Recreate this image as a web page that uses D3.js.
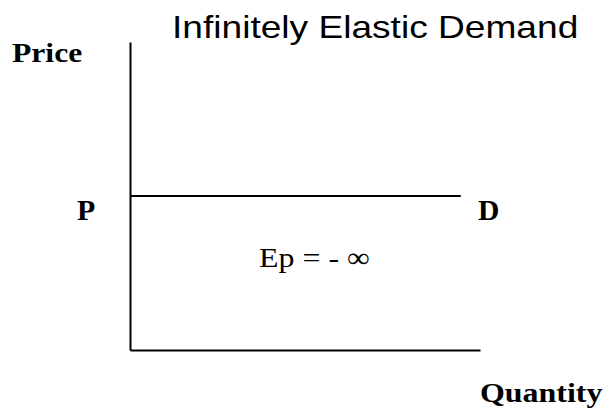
<!DOCTYPE html>
<meta charset="utf-8">
<head>
<script src="https://cdn.jsdelivr.net/npm/d3@7"></script>
<style>
  body { margin: 0; background: #fff; }
  .serif { font-family: "Liberation Serif", "Times New Roman", serif; fill: #000; }
  .sans { font-family: "Liberation Sans", Arial, sans-serif; fill: #000; }
</style>
</head>
<body>
<div id="chart"></div>
<script>

// axis extents (quantity, price), in chart units
var quantityDomain = [0, 10];
var priceDomain = [0, 10];

// the demand line: flat at price P for every quantity
var demandPrice = 5;
var demandQuantity = [0, 9.45];

var width = 605,
    height = 416;

var x = d3.scaleLinear()
    .domain(quantityDomain)
    .range([130, 480]);

var y = d3.scaleLinear()
    .domain(priceDomain)
    .range([350, 42]);

var svg = d3.select("#chart").append("svg")
    .attr("width", width)
    .attr("height", height);

// axes, no ticks, just the lines
svg.append("g")
    .attr("transform", "translate(0," + y(0) + ")")
    .call(d3.axisBottom(x).tickValues([]).tickSizeOuter(0));

svg.append("g")
    .attr("transform", "translate(" + x(0) + ",0)")
    .call(d3.axisLeft(y).tickValues([]).tickSizeOuter(0));

svg.selectAll(".domain")
    .attr("stroke", "#000")
    .attr("stroke-width", 2);

// demand curve
var line = d3.line()
    .x(function(d) { return x(d); })
    .y(function() { return y(demandPrice); });

svg.append("path")
    .datum(demandQuantity)
    .attr("d", line)
    .attr("fill", "none")
    .attr("stroke", "#000")
    .attr("stroke-width", 2);

// text is a bit wide in the original, so stretch it horizontally
function label(tx, ty, txt, cls, size, weight, sx) {
  svg.append("g")
      .attr("transform", "translate(" + tx + "," + ty + ")")
    .append("text")
      .attr("class", cls)
      .attr("transform", "scale(" + sx + ",1)")
      .style("font-size", size + "px")
      .style("font-weight", weight)
      .text(txt);
}

label(172, 38, "Infinitely Elastic Demand", "sans", 32, "normal", 1.16);
label(12, 62, "Price", "serif", 28, "bold", 1.13);
label(77, 220, "P", "serif", 29, "bold", 1.03);
label(478, 220, "D", "serif", 29, "bold", 1.02);
label(259, 267, "Ep = - \u221e", "serif", 28, "normal", 1.14);
label(480, 402, "Quantity", "serif", 28, "bold", 1.14);

</script>
</body>
